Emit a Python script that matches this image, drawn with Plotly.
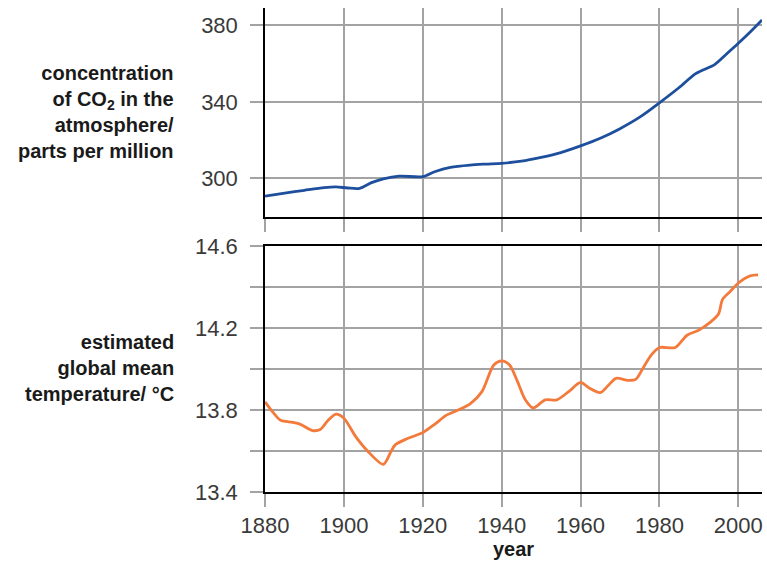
import plotly.graph_objects as go

# CO2 concentration (ppm)
co2_years = [1880, 1885, 1890, 1895, 1898, 1901, 1904, 1907, 1910, 1914, 1920, 1923, 1927,
             1932, 1936, 1940, 1945, 1950, 1955, 1960, 1965, 1970, 1975, 1980, 1985, 1989,
             1991, 1994, 1997, 2000, 2003, 2006]
co2_ppm = [290.7, 292.3, 293.8, 295.2, 295.6, 295.0, 294.8, 297.8, 299.8, 301.2, 300.9, 303.5,
           305.8, 307.0, 307.5, 307.9, 309.0, 311.0, 313.5, 317.0, 321.0, 326.0, 332.0, 339.5,
           347.5, 354.5, 356.6, 359.5, 365.0, 370.6, 376.5, 382.8]

# estimated global mean temperature (degC)
temp_years = [1880, 1882, 1884, 1887, 1889, 1892, 1894, 1896, 1898, 1900, 1903, 1906, 1910,
              1912, 1913, 1916, 1920, 1923, 1926, 1929, 1932, 1935, 1938, 1940, 1942, 1944,
              1946, 1948, 1951, 1954, 1957, 1960, 1962, 1965, 1967, 1969, 1972, 1974, 1976,
              1978, 1980, 1984, 1987, 1990, 1993, 1995, 1996, 1998, 2000, 2003, 2005]
temp_c = [13.84, 13.79, 13.75, 13.74, 13.73, 13.70, 13.705, 13.75, 13.78, 13.76, 13.67, 13.60,
          13.535, 13.60, 13.63, 13.66, 13.69, 13.73, 13.775, 13.80, 13.83, 13.89, 14.02, 14.04,
          14.02, 13.94, 13.85, 13.81, 13.85, 13.85, 13.89, 13.935, 13.91, 13.885, 13.92, 13.955,
          13.945, 13.95, 14.01, 14.07, 14.105, 14.105, 14.165, 14.19, 14.23, 14.27, 14.34, 14.38,
          14.42, 14.455, 14.46]

year_ticks = [1880, 1900, 1920, 1940, 1960, 1980, 2000]
co2_ticks = [300, 340, 380]
temp_ticks = [13.4, 13.6, 13.8, 14.0, 14.2, 14.4, 14.6]
temp_labels = ['13.4', '', '13.8', '', '14.2', '', '14.6']

grid = '#a3a3a3'
tick_font = dict(family='Liberation Sans, Arial, sans-serif', size=22, color='#3a3a3a')
title_font = dict(family='Liberation Sans, Arial, sans-serif', size=20, color='#1a1a1a')

data = [
    go.Scatter(x=co2_years, y=co2_ppm, mode='lines', xaxis='x', yaxis='y',
               line=dict(color='#1d4f9d', width=2.8, shape='spline', smoothing=0.8)),
    go.Scatter(x=temp_years, y=temp_c, mode='lines', xaxis='x2', yaxis='y2',
               line=dict(color='#f37a3b', width=2.8, shape='spline', smoothing=0.8)),
]

x_common = dict(range=[1880, 2006], tickvals=year_ticks, showgrid=True, gridcolor=grid,
                gridwidth=1.5, ticks='outside', ticklen=13, tickcolor=grid, tickwidth=1.5,
                showline=True, linecolor='black', linewidth=1.5, zeroline=False,
                tickfont=tick_font, automargin=False)
y_common = dict(showgrid=True, gridcolor=grid, gridwidth=1.5, ticks='outside', ticklen=13,
                tickcolor=grid, tickwidth=1.5, showline=True, linecolor='black', linewidth=1.5,
                zeroline=False, tickfont=tick_font, ticklabelstandoff=8, automargin=False)

fig = go.Figure(
    data=data,
    layout=go.Layout(
        xaxis=dict(x_common, domain=[0, 1], anchor='y', showticklabels=False),
        yaxis=dict(y_common, domain=[0.568, 1], anchor='x', range=[279.8, 389.05],
                   tickvals=co2_ticks),
        xaxis2=dict(x_common, domain=[0, 1], anchor='y2', mirror=True, ticklabelstandoff=0,
                    ticklabeloverflow='allow',
                    title=dict(text='<b>year</b>', font=dict(title_font, size=20), standoff=5)),
        yaxis2=dict(y_common, domain=[0, 0.508], anchor='x2', range=[13.4, 14.6],
                    tickvals=temp_ticks, ticktext=temp_labels),
        annotations=[
            dict(text='<b>concentration<br>of CO<sub>2</sub> in the<br>atmosphere/<br>parts per million</b>',
                 xref='paper', yref='paper', x=-0.18, y=0.785, xanchor='right', yanchor='middle',
                 align='right', showarrow=False, font=title_font),
            dict(text='<b>estimated<br>global mean<br>temperature/ °C</b>',
                 xref='paper', yref='paper', x=-0.18, y=0.256, xanchor='right', yanchor='middle',
                 align='right', showarrow=False, font=title_font),
        ],
        showlegend=False,
        plot_bgcolor='white',
        paper_bgcolor='white',
    )
)
fig.update_layout(width=767, height=566, margin=dict(l=265, r=5, t=8, b=74))
# drop the default page margin so the figure fills the window exactly
fig.write_html("out.html", config={'displayModeBar': False},
               post_script="document.body.style.margin='0';")
